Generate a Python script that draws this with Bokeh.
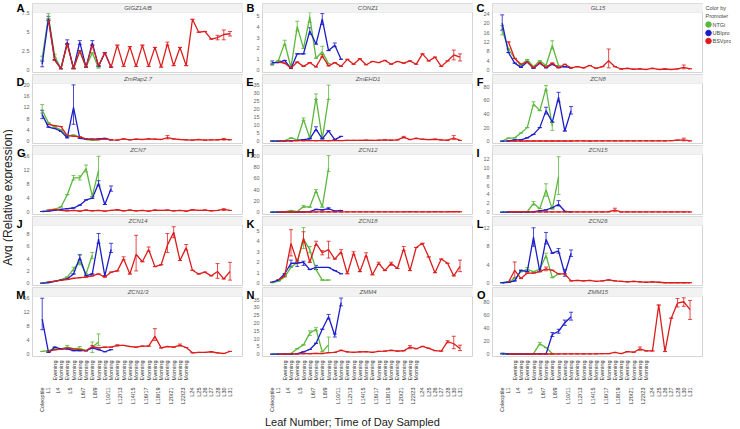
import numpy as np
from math import pi
from bokeh.plotting import figure
from bokeh.models import (ColumnDataSource, Whisker, TeeHead, FixedTicker, Range1d,
                          BoxAnnotation, Label, LinearAxis)
from bokeh.layouts import row, column
from bokeh.embed import file_html
from bokeh.resources import INLINE
from bokeh.core.properties import value

FONT = "Liberation Sans"
N = None

# ---------------- categories ----------------
LEAVES = ["Coleoptile", "L1", "L4", "L5", "L6/7", "L8/9", "L10/11", "L12/13", "L14/15",
          "L16/17", "L18/19", "L20/21", "L22/23", "L24", "L25", "L26", "L27", "L28", "L30", "L31"]
PAIRED = ["L4", "L5", "L6/7", "L8/9", "L10/11", "L12/13", "L14/15", "L16/17", "L18/19",
          "L20/21", "L22/23"]
TIMES = ["Evening", "Morning"]

PROMOTERS = ["NTGi", "UBIpro", "BSVpro"]
COLORS = {"NTGi": "#5cb83c", "UBIpro": "#1c1cc8", "BSVpro": "#dd1c1c"}

# ---------------- data (Avg relative expression) ----------------
# A  GIGZ1A/B
A_NTGi = [1.6, 7.1, 1.9, 0.2, 3.4, 0.3, 2.5, 0.4, 2.3, 0.3]
A_NTGi_err = {0: (1.35, 1.85), 1: (6.8, 7.45), 2: (1.7, 2.1)}
A_UBIpro = [0.8, 6.8, 1.4, 0.2, 3.7, 0.2, 3.7, 0.4, 3.6, 0.5, 2.3, 0.4]
A_UBIpro_err = {0: (0.45, 1.2), 1: (6.5, 7.1), 4: (3.4, 4.0), 6: (3.4, 3.9), 8: (3.3, 3.9)}
A_BSVpro = [N, 6.6, 1.3, 0.2, 3.5, 0.2, 2.6, 0.4, 3.3, 0.6, 2.3, 0.4, 3.3, 0.5, 3.1, 0.5,
            3.3, 0.5, 3.0, 0.4, 3.5, 0.6, 3.0, 0.6, 6.7, 5.0, 5.1, 4.1, 4.3, 4.7, 4.8]
A_BSVpro_err = {20: (3.3, 3.7), 28: (4.0, 4.6), 29: (4.0, 5.3), 30: (4.5, 5.1)}

# B  CONZ1
B_NTGi = [0.55, 0.9, 2.5, 0.25, 4.0, 2.0, 4.9, 1.1, 1.7, 0.6]
B_NTGi_err = {0: (0.45, 0.65), 2: (2.3, 2.75), 4: (3.6, 4.5), 6: (4.4, 5.3), 8: (1.3, 2.2)}
B_UBIpro = [0.7, 0.7, 0.9, 0.15, 1.5, 1.5, 3.6, 2.4, 4.7, 1.8, 2.3, 1.0]
B_UBIpro_err = {0: (0.55, 0.85), 6: (3.3, 3.9), 8: (4.2, 5.2), 10: (2.15, 2.5)}
B_BSVpro = [N, 0.75, 0.65, 0.2, 0.75, 0.35, 0.7, 0.3, 1.3, 0.4, 0.7, 0.35, 1.0, 0.55, 1.05, 0.5,
            0.8, 0.7, 0.9, 0.55, 0.8, 0.65, 0.85, 0.55, 1.5, 0.85, 1.2, 0.35, 0.85, 1.4, 1.2]
B_BSVpro_err = {8: (1.2, 1.45), 29: (0.95, 1.85), 30: (0.85, 1.5)}

# C  GL15
C_NTGi = [17, 9, 5, 2, 4.5, 1.5, 4, 2, 10.5, 2]
C_NTGi_err = {0: (15, 19), 8: (9, 12.5)}
C_UBIpro = [20, 7.5, 3, 1.2, 3.5, 0.8, 3.0, 1.0, 2.5, 1.2, 1.5, 1.0]
C_UBIpro_err = {0: (17, 23.5)}
C_BSVpro = [N, 12, 5, 2.5, 3.5, 1.0, 3.2, 1.2, 3.0, 1.0, 2.5, 1.0, 1.5, 1.0, 2.0, 0.8,
            1.5, 4.0, 1.5, 0.5, 0.8, 0.4, 0.6, 0.3, 0.8, 0.3, 0.5, 0.3, 0.6, 1.2, 0.6]
C_BSVpro_err = {17: (1.0, 9.0), 29: (0.6, 2.2)}

# D  ZmRap2.7
D_NTGi = [11, 6.5, 5, 4, 1.8, 2.2, 1.5, 0.6, 0.3, 0.5]
D_NTGi_err = {0: (10, 13)}
D_UBIpro = [9.5, 5, 4.5, 3.5, 1.2, 12, 1.0, 0.7, 0.7, 0.8, 1.0, 0.5]
D_UBIpro_err = {0: (8, 11), 5: (6, 20)}
D_BSVpro = [N, 6, 5.5, 5.2, 2.0, 1.8, 1.5, 0.8, 0.6, 0.6, 0.8, 0.5, 0.4, 0.8, 0.5, 0.7,
            0.6, 0.8, 0.7, 0.6, 1.3, 0.8, 0.6, 0.5, 0.4, 0.6, 0.4, 0.5, 0.5, 0.7, 0.5]
D_BSVpro_err = {20: (0.8, 2.0), 29: (0.4, 1.0)}

# E  ZmEHD1
E_NTGi = [0.1, 0.2, 0.3, 2.0, 0.8, 13.5, 2.0, 27, 1.5, 27]
E_NTGi_err = {5: (13, 14.5), 7: (26, 29.5), 9: (26, 35)}
E_UBIpro = [0.1, 0.1, 0.2, 0.3, 0.5, 1.0, 1.5, 7.5, 1.5, 6.5, 1.0, 3.0]
E_UBIpro_err = {7: (6.5, 9)}
E_BSVpro = [N, 0.2, 0.2, 0.2, 0.3, 0.3, 0.4, 0.3, 0.4, 0.3, 0.5, 0.4, 0.5, 0.5, 0.5, 0.6,
            0.5, 0.6, 0.8, 0.6, 0.8, 2.5, 1.0, 1.8, 1.2, 1.0, 1.2, 0.8, 0.6, 2.0, 0.5]
E_BSVpro_err = {21: (2.0, 3.0), 29: (1.0, 3.5)}

# F  ZCN8
F_NTGi = [0.3, 4.5, 5.0, 12, 20, 55, 45, 78, 22]
F_NTGi_err = {5: (52, 58), 7: (75, 82), 8: (16, 28)}
F_UBIpro = [0, 0.5, 2, 2, 5, 10, 20, 45, 28, 65, 15, 45]
F_UBIpro_err = {7: (40, 50), 9: (58, 72), 11: (40, 51)}
F_BSVpro = [N, 0.2, 0.2, 0.3, 0.3, 0.3, 0.3, 0.4, 0.3, 0.3, 0.4, 0.3, 0.4, 0.4, 0.3, 0.4,
            0.4, 0.5, 0.4, 0.5, 0.5, 0.4, 0.5, 0.6, 0.5, 0.6, 0.5, 0.8, 1.5, 2.0, 0.5]
F_BSVpro_err = {29: (0.5, 4.5)}

# G  ZCN7
G_NTGi = [0.2, 0.4, 0.8, 1.5, 5.0, 9.8, 9.8, 12.5, 4.5, 12.0]
G_NTGi_err = {5: (9.2, 10.5), 6: (9.2, 10.4), 7: (11.5, 13.5), 9: (8, 16)}
G_UBIpro = [0.2, 0.3, 0.5, 0.8, 1.0, 1.2, 2.0, 3.5, 4.0, 8.2, 2.2, 6.7]
G_UBIpro_err = {9: (7.5, 9), 11: (6, 7.5)}
G_BSVpro = [N, 0.6, 0.8, 0.5, 0.4, 0.5, 0.3, 0.6, 0.4, 0.5, 0.3, 0.5, 0.7, 0.4, 0.6, 0.4,
            0.5, 0.3, 0.6, 0.5, 0.6, 0.4, 0.5, 0.3, 0.7, 0.5, 0.6, 0.4, 0.5, 0.8, 0.5]
G_BSVpro_err = {29: (0.5, 1.0)}

# H  ZCN12
H_NTGi = [0.2, 0.3, 0.5, 3.0, 1.0, 10, 9, 38, 9, 78]
H_NTGi_err = {5: (8, 12), 7: (35, 40), 9: (72, 100)}
H_UBIpro = [0, 0, 0.1, 0.2, 0.3, 0.5, 1.0, 5.0, 4.0, 6.5, 2.0, 3.0]
H_UBIpro_err = {9: (5, 8)}
H_BSVpro = [N, 0.3, 0.3, 0.4, 0.3, 0.4, 0.3, 0.4, 0.5, 0.4, 0.5, 0.4, 0.5, 0.6, 0.5, 0.6,
            0.5, 0.6, 0.7, 0.6, 0.7, 0.6, 0.8, 0.6, 0.7, 0.6, 0.8, 0.7, 0.8, 1.0, 0.8]
H_BSVpro_err = {}

# I  ZCN15
I_NTGi = [0, 0, 0, 0.1, 0.1, 2.0, 0.8, 5.0, 0.7, 8.0]
I_NTGi_err = {5: (1.6, 2.4), 7: (3.6, 6.4), 9: (4, 12.5)}
I_UBIpro = [0, 0, 0, 0, 0, 0.1, 0.3, 0.5, 1.0, 1.8, 0.2, 0.1]
I_UBIpro_err = {9: (1.4, 2.6)}
I_BSVpro = [N, 0.05, 0.1, 0.1, 0.05, 0.05, 0.05, 0.05, 0.05, 0.05, 0.05, 0.05, 0.05, 0.05,
            0.05, 0.05, 0.05, 0.1, 0.45, 0.05, 0.05, 0.05, 0.05, 0.05, 0.05, 0.05, 0.05, 0.05,
            0.05, 0.05, 0.05]
I_BSVpro_err = {18: (0.1, 0.9)}

# J  ZCN14
J_NTGi = [0, 0.1, 0.3, 0.6, 1.0, 2.3, 3.5, 1.5, 4.6]
J_NTGi_err = {5: (2.0, 2.6), 6: (3.0, 4.7), 8: (4.0, 5.0)}
J_UBIpro = [0, 0.1, 0.3, 0.5, 0.7, 1.5, 4.2, 1.2, 1.5, 7.2, 1.2, 5.5]
J_UBIpro_err = {6: (3.8, 4.6), 9: (6.5, 8.1), 11: (5.0, 6.5)}
J_BSVpro = [N, 0.2, 0.3, 0.5, 0.6, 0.8, 0.9, 1.0, 1.2, 1.5, 1.0, 1.8, 2.0, 4.0, 1.5, 4.7,
            3.5, 5.5, 2.7, 3.0, 6.2, 8.3, 3.7, 5.8, 2.1, 1.5, 1.8, 1.2, 1.9, 0.7, 1.9]
J_BSVpro_err = {13: (3.8, 4.3), 15: (2.0, 7.8), 17: (5.2, 5.9), 20: (5.0, 8.1),
                21: (7.4, 9.2), 23: (5.4, 6.3), 28: (0.8, 3.2), 30: (0.5, 3.4)}

# K  ZCN18
K_NTGi = [0.05, 0.2, 0.6, 1.5, 2.0, 4.2, 3.2, 1.3, 0.3, 0.3]
K_NTGi_err = {5: (3.3, 5.3), 6: (2.9, 3.5)}
K_UBIpro = [0.1, 0.3, 0.9, 1.9, 1.9, 2.0, 1.3, 1.5, 1.5, 1.5, 1.2, 0.9]
K_UBIpro_err = {3: (1.6, 2.2), 4: (1.6, 2.2), 5: (1.7, 2.1), 7: (1.3, 1.7)}
K_BSVpro = [N, 0.3, 0.7, 3.8, 2.0, 4.3, 2.0, 3.8, 2.9, 3.2, 2.3, 3.0, 0.9, 2.9, 1.1, 2.7,
            0.8, 1.9, 1.2, 1.9, 1.4, 3.3, 1.2, 3.4, 3.8, 2.5, 1.0, 2.3, 1.9, 0.7, 1.6]
K_BSVpro_err = {3: (2.6, 5.1), 5: (3.9, 4.9), 7: (3.6, 4.0), 8: (2.7, 3.1), 9: (2.4, 4.0),
                11: (2.8, 3.2), 13: (2.7, 3.0), 15: (2.5, 2.9), 17: (1.8, 2.0),
                19: (1.7, 2.0), 21: (3.1, 3.5), 30: (1.1, 2.2)}

# L  ZCN26
L_NTGi = [0.1, 0.3, 1.0, 2.5, 3.0, 2.5, 3.0, 6.0, 1.2, 2.0]
L_NTGi_err = {4: (2.6, 3.4), 7: (5.5, 6.5)}
L_UBIpro = [0.1, 0.2, 0.5, 2.8, 2.5, 10.0, 2.5, 9.5, 6.5, 7.0, 2.0, 6.5]
L_UBIpro_err = {5: (8, 12), 7: (8.5, 11), 9: (6.5, 7.5), 10: (1.5, 3), 11: (5.8, 7.2)}
L_BSVpro = [N, 0.2, 2.8, 1.0, 2.2, 2.2, 2.5, 3.1, 2.8, 2.0, 2.0, 0.5, 0.6, 0.5, 0.6, 0.4,
            0.5, 0.7, 0.5, 0.4, 0.3, 0.4, 0.3, 0.2, 0.3, 0.2, 0.1, 0.1, 0.1, 0.1, 0.1]
L_BSVpro_err = {2: (1.2, 4.6), 7: (2.7, 3.5)}

# M  ZCN1/3
M_NTGi = [0.8, 1.0, 1.5, 1.5, 2.0, 1.6, 1.7, 1.0, 2.0, 3.5]
M_NTGi_err = {2: (1.2, 2.0), 4: (1.6, 2.5), 6: (1.3, 2.2), 8: (0.5, 3.5), 9: (2.5, 5.8)}
M_UBIpro = [10.0, 0.5, 2.0, 1.5, 1.5, 1.0, 1.0, 1.0, 1.8, 1.3, 0.7, 1.3]
M_UBIpro_err = {0: (7, 16)}
M_BSVpro = [N, 0.7, 1.3, 1.4, 1.8, 1.5, 1.3, 1.0, 2.2, 1.8, 2.0, 2.0, 2.5, 2.5, 2.2, 2.0,
            2.3, 2.3, 5.1, 1.8, 2.2, 2.0, 2.6, 1.9, 0.4, 0.5, 0.5, 0.7, 0.4, 0.2, 0.8]
M_BSVpro_err = {8: (1.8, 2.5), 12: (2.3, 2.7), 18: (3.9, 7.3), 22: (2.3, 2.9)}

# N  ZMM4
N_NTGi = [0, 0, 0.2, 0.5, 3.5, 6.0, 13.5, 16.0, 1.5, 6.0]
N_NTGi_err = {6: (12, 15), 7: (15, 17), 9: (1, 11)}
N_UBIpro = [0, 0, 0, 0.1, 0.3, 1.5, 3.0, 7.0, 16, 24, 12, 33]
N_UBIpro_err = {9: (22.5, 25.5), 10: (11, 13), 11: (31, 36)}
N_BSVpro = [N, 0.1, 0.1, 0.2, 0.2, 0.3, 0.3, 0.5, 0.4, 1.0, 1.2, 2.5, 1.5, 1.2, 1.5, 1.6,
            1.2, 1.8, 2.0, 2.5, 2.0, 2.2, 4.5, 3.5, 5.0, 3.8, 2.3, 2.0, 8.0, 6.7, 3.7]
N_BSVpro_err = {22: (3.5, 5.5), 28: (7.3, 8.7), 29: (3.5, 11.5), 30: (2.3, 5.8)}

# O  ZMM15
O_NTGi = [1.5, 0.5, 0.3, 0.3, 0.5, 1.0, 16, 10, 1.0]
O_NTGi_err = {6: (14, 18)}
O_UBIpro = [0.5, 0.3, 0.3, 0.3, 0.3, 0.5, 0.5, 0.5, 30, 35, 48, 57]
O_UBIpro_err = {8: (27, 33), 9: (32, 38), 10: (44, 52), 11: (52, 64)}
O_BSVpro = [N, 0.3, 0.3, 0.2, 0.3, 0.3, 0.3, 0.3, 0.3, 0.4, 0.4, 0.5, 0.5, 0.4, 0.5, 0.6,
            0.8, 0.8, 2.7, 1.0, 4.0, 3.0, 8.0, 5.0, 5.0, 75, 4.0, 55, 78, 80, 68]
O_BSVpro_err = {22: (6, 11), 28: (72, 85), 29: (73, 86), 30: (53, 82)}

PANELS = [
    ("A", "GIGZ1A/B", [0, 2.5, 5, 7.5], 7.6),
    ("B", "CONZ1", [0, 1, 2, 3, 4, 5], 5.3),
    ("C", "GL15", [0, 4, 8, 12, 16, 20, 24], 24.5),
    ("D", "ZmRap2.7", [0, 4, 8, 12, 16, 20], 20.5),
    ("E", "ZmEHD1", [0, 5, 10, 15, 20, 25, 30, 35], 36),
    ("F", "ZCN8", [0, 20, 40, 60, 80], 85),
    ("G", "ZCN7", [0, 4, 8, 12, 16], 16.5),
    ("H", "ZCN12", [0, 20, 40, 60, 80, 100], 102),
    ("I", "ZCN15", [0, 2, 4, 6, 8, 10, 12], 13),
    ("J", "ZCN14", [0, 2, 4, 6, 8], 9.4),
    ("K", "ZCN18", [0, 1, 2, 3, 4, 5], 5.5),
    ("L", "ZCN26", [0, 4, 8, 12], 12.5),
    ("M", "ZCN1/3", [0, 4, 8, 12, 16], 16.5),
    ("N", "ZMM4", [0, 5, 10, 15, 20, 25, 30, 35], 37),
    ("O", "ZMM15", [0, 20, 40, 60, 80], 88),
]

# ---------------- build categories / positions ----------------
CATS = []
for leaf in LEAVES:
    if leaf in PAIRED:
        for t in TIMES:
            CATS.append((leaf, t))
    else:
        CATS.append((leaf, ""))
NCAT = len(CATS)
X = np.arange(NCAT, dtype=float)

tod_ticks = [float(i) for i, c in enumerate(CATS) if c[1]]
tod_labels = {float(i): c[1] for i, c in enumerate(CATS) if c[1]}
leaf_ticks, leaf_labels = [], {}
for leaf in LEAVES:
    idx = [i for i, c in enumerate(CATS) if c[0] == leaf]
    pos = float(np.mean(idx))
    leaf_ticks.append(pos)
    leaf_labels[pos] = leaf

# ---------------- geometry / style ----------------
FW = 211          # pane width (px)
PLOT_H = 60       # plotting area height
STRIP_H = 9       # header strip height
ROW_GAP = 2
XR = (-1.55, 32.15)
TICK_FS = 5.5
LETTER_FS = 11
LETTER_LEFT = 13  # px left of pane where the panel letter starts
LETTER_EM = {"A": .722, "B": .722, "C": .722, "D": .722, "E": .667, "F": .611, "G": .778,
             "H": .722, "I": .278, "J": .556, "K": .722, "L": .611, "M": .833, "N": .722,
             "O": .778}


def text_w(s, fs):
    return sum(0.278 if ch == "." else 0.556 for ch in s) * fs


def pad(vals):
    return np.array(list(vals) + [None] * (NCAT - len(vals)), dtype=float)


def make_panel(letter, title, ticks, ymax, left_border, top_border, bottom):
    ymin = -0.04 * ymax
    ytop = ymax + (ymax - ymin) * STRIP_H / PLOT_H
    p = figure(frame_width=FW, frame_height=PLOT_H + STRIP_H,
               x_range=Range1d(*XR), y_range=Range1d(ymin, ytop),
               output_backend="svg", toolbar_location=None, title=None,
               x_axis_location=None,
               min_border_left=left_border, min_border_right=0,
               min_border_top=top_border, min_border_bottom=0 if bottom else ROW_GAP)
    p.grid.visible = False
    p.outline_line_color = "#d4d4d4"

    labels = {t: f"{t:g}" for t in ticks}
    ax = p.yaxis[0]
    ax.ticker = FixedTicker(ticks=ticks)
    ax.major_label_overrides = labels
    ax.major_label_text_font_size = f"{TICK_FS}px"
    ax.major_label_text_color = "#666666"
    ax.major_label_text_font = FONT
    ax.axis_line_color = None
    ax.major_tick_line_color = None
    ax.minor_tick_line_color = None
    ax.major_tick_out = 0
    ax.major_tick_in = 0
    ax.minor_tick_out = 0
    ax.major_label_standoff = 3

    # panel letter, drawn by an outer axis that is pulled back over the tick-label column
    a1 = 3 + max(text_w(s, TICK_FS) for s in labels.values())
    lw = LETTER_EM[letter] * LETTER_FS
    ymid = (ymax + ytop) / 2
    lax = LinearAxis(ticker=FixedTicker(ticks=[ymid]), major_label_overrides={ymid: letter},
                     major_label_text_font_size=f"{LETTER_FS}px",
                     major_label_text_font_style="bold", major_label_text_color="black",
                     major_label_text_font=FONT,
                     major_label_standoff=int(round(LETTER_LEFT - lw - a1)),
                     axis_line_color=None, major_tick_line_color=None,
                     minor_tick_line_color=None, major_tick_out=0, major_tick_in=0,
                     minor_tick_out=0)
    p.add_layout(lax, "left")

    g = globals()
    for prom in PROMOTERS:
        v = pad(g[f"{letter}_{prom}"])
        lo, hi = v.copy(), v.copy()
        for i, (a, b) in g[f"{letter}_{prom}_err"].items():
            lo[i], hi[i] = a, b
        src = ColumnDataSource(dict(x=X, y=v, lo=lo, hi=hi))
        c = COLORS[prom]
        p.line("x", "y", source=src, line_color=c, line_width=1.3)
        p.add_layout(Whisker(base="x", lower="lo", upper="hi", source=src,
                             line_color=c, line_width=0.8,
                             upper_head=TeeHead(size=4, line_color=c, line_width=0.8),
                             lower_head=TeeHead(size=4, line_color=c, line_width=0.8)))

    p.add_layout(BoxAnnotation(left=XR[0], right=XR[1], bottom=ymax, top=ytop,
                               fill_color="#f2f2f2", fill_alpha=1,
                               line_color="#d4d4d4", line_width=1))
    p.add_layout(Label(x=(XR[0] + XR[1]) / 2, y=ymid, text=title,
                       text_align="center", text_baseline="middle",
                       text_font_size="6px", text_font_style="italic",
                       text_color="#555555", text_font=FONT))

    if bottom:
        common = dict(major_label_orientation=pi / 2,
                      major_label_text_font_size="5.5px",
                      major_label_text_color="#333333",
                      major_label_text_font=FONT,
                      major_label_standoff=4,
                      axis_line_color=None, major_tick_line_color=None,
                      minor_tick_line_color=None, major_tick_out=0, major_tick_in=0,
                      minor_tick_out=0)
        ax1 = LinearAxis(ticker=FixedTicker(ticks=tod_ticks),
                         major_label_overrides=tod_labels, **common)
        ax2 = LinearAxis(ticker=FixedTicker(ticks=leaf_ticks),
                         major_label_overrides=leaf_labels, **common)
        p.add_layout(ax1, "below")
        p.add_layout(ax2, "below")
    return p


figs = []
for k, (letter, title, ticks, ymax) in enumerate(PANELS):
    col, r = k % 3, k // 3
    figs.append(make_panel(letter, title, ticks, ymax,
                           left_border=15 if col == 0 else 19,
                           top_border=3 if r == 0 else 0,
                           bottom=(r == 4)))

# legend
LH = 3 + PLOT_H + STRIP_H + ROW_GAP
leg = figure(frame_width=28, frame_height=LH, x_range=Range1d(0, 28),
             y_range=Range1d(LH, 0), output_backend="svg", toolbar_location=None,
             title=None, x_axis_location=None, y_axis_location=None,
             min_border=0)
leg.grid.visible = False
leg.outline_line_color = None
leg.text(x=[2, 2], y=[4.5, 12], text=["Color by", "Promoter"],
         text_font_size="5.5px", text_baseline="middle", text_color="#444444",
         text_font=value(FONT))
leg.scatter(x=[5, 5, 5], y=[21, 29.5, 37.5], size=5.5,
            color=[COLORS[p] for p in PROMOTERS])
leg.text(x=[9, 9, 9], y=[21, 29.5, 37.5], text=PROMOTERS,
         text_font_size="5.5px", text_baseline="middle", text_color="#444444",
         text_font=value(FONT))

# y title
YH = 3 + 5 * (PLOT_H + STRIP_H + ROW_GAP) - ROW_GAP
yt = figure(frame_width=13, frame_height=YH, x_range=Range1d(0, 13),
            y_range=Range1d(0, YH), output_backend="svg", toolbar_location=None,
            title=None, x_axis_location=None, y_axis_location=None, min_border=0)
yt.grid.visible = False
yt.outline_line_color = None
yt.text(x=[7], y=[YH - 197], text=["Avg (Relative expression)"], angle=pi / 2,
        text_align="center", text_baseline="middle", text_font_size="12px",
        text_color="#222222", text_font=value(FONT))

# x title
xt = figure(frame_width=730, frame_height=15, x_range=Range1d(0, 730),
            y_range=Range1d(0, 15), output_backend="svg", toolbar_location=None,
            title=None, x_axis_location=None, y_axis_location=None, min_border=0)
xt.grid.visible = False
xt.outline_line_color = None
xt.text(x=[352], y=[8], text=["Leaf Number; Time of Day Sampled"],
        text_align="center", text_baseline="middle", text_font_size="11px",
        text_color="#222222", text_font=value(FONT))

grid = column(row(figs[0], figs[1], figs[2], leg),
              row(*figs[3:6]), row(*figs[6:9]), row(*figs[9:12]), row(*figs[12:15]))
page = column(row(yt, grid), xt)

open("out.html", "w").write(file_html(page, INLINE))
